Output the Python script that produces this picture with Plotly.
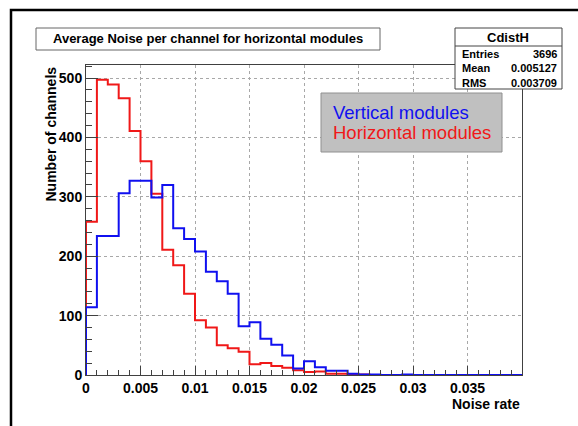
import numpy as np
import plotly.graph_objects as go

# ---- data ----
bin_width = 0.001
n_bins = 40
horizontal_counts = [258, 497, 489, 466, 411, 360, 305, 211, 185, 137,
                     92, 80, 50, 45, 39, 18, 20, 15, 12, 8,
                     5, 6, 2, 2, 1, 1, 0, 0, 0, 0,
                     0, 0, 0, 0, 0, 0, 0, 0, 0, 0]
vertical_counts = [114, 234, 234, 306, 327, 327, 299, 320, 247, 229,
                   208, 174, 158, 137, 82, 89, 61, 51, 33, 11,
                   23, 13, 7, 7, 2, 1, 1, 0, 0, 1,
                   0, 0, 0, 0, 0, 0, 0, 0, 0, 0]
x_tick_vals = [0, 0.005, 0.01, 0.015, 0.02, 0.025, 0.03, 0.035]
x_tick_text = ["0", "0.005", "0.01", "0.015", "0.02", "0.025", "0.03", "0.035"]
y_tick_vals = [0, 100, 200, 300, 400, 500]
stats_name = "CdistH"
stats_rows = [("Entries", "3696"), ("Mean", "0.005127"), ("RMS", "0.003709")]
title_text = "Average Noise per channel for horizontal modules"
legend_labels = ["Vertical modules", "Horizontal modules"]

BLUE = "#1010f0"
RED = "#f01818"
FONT = "Liberation Sans, Arial, Helvetica, sans-serif"

edges = [i * bin_width for i in range(n_bins + 1)]


def step_xy(counts):
    xs = [edges[0]] + edges[:-1] + [edges[-1], edges[-1]]
    ys = [0] + list(counts) + [counts[-1], 0]
    return xs, ys


W, H = 578, 426
L, R, T, B = 86, 522, 65, 375


def px(x):
    return (x - L) / (R - L)


def py(y):
    return (B - y) / (B - T)


fig = go.Figure()
for counts, color in [(horizontal_counts, RED), (vertical_counts, BLUE)]:
    xs, ys = step_xy(counts)
    fig.add_trace(go.Scatter(x=xs, y=ys, mode="lines", line_shape="hv",
                             line=dict(color=color, width=2), hoverinfo="skip",
                             showlegend=False))

shapes = []
annotations = []
# outer canvas frame
shapes.append(dict(type="rect", xref="paper", yref="paper",
                   x0=px(11), x1=px(600), y0=py(10), y1=py(450),
                   line=dict(color="black", width=2.5), layer="below"))
# title box
shapes.append(dict(type="rect", xref="paper", yref="paper",
                   x0=px(36), x1=px(380), y0=py(28), y1=py(50),
                   fillcolor="white", line=dict(color="#666666", width=1)))
annotations.append(dict(xref="paper", yref="paper", x=px(208), y=py(39),
                        text="<b>" + title_text + "</b>", showarrow=False,
                        xanchor="center", yanchor="middle",
                        font=dict(family=FONT, size=13, color="black")))
# stats box
shapes.append(dict(type="rect", xref="paper", yref="paper",
                   x0=px(455), x1=px(562), y0=py(28), y1=py(89),
                   fillcolor="white", line=dict(color="#444444", width=1)))
shapes.append(dict(type="line", xref="paper", yref="paper",
                   x0=px(455), x1=px(562), y0=py(46), y1=py(46),
                   line=dict(color="#444444", width=1)))
annotations.append(dict(xref="paper", yref="paper", x=px(508), y=py(37),
                        text="<b>" + stats_name + "</b>", showarrow=False,
                        xanchor="center", yanchor="middle",
                        font=dict(family=FONT, size=13, color="black")))
for i, (lab, val) in enumerate(stats_rows):
    yy = py(54 + 14.5 * i)
    annotations.append(dict(xref="paper", yref="paper", x=px(460), y=yy,
                            text="<b>" + lab + "</b>", showarrow=False,
                            xanchor="left", yanchor="middle",
                            font=dict(family=FONT, size=11, color="black")))
    annotations.append(dict(xref="paper", yref="paper", x=px(559), y=yy,
                            text="<b>" + val + "</b>", showarrow=False,
                            xanchor="right", yanchor="middle",
                            font=dict(family=FONT, size=11, color="black")))
# legend box
shapes.append(dict(type="rect", xref="paper", yref="paper",
                   x0=px(321), x1=px(502), y0=py(93), y1=py(152),
                   fillcolor="#c0c0c0", line=dict(color="#909090", width=1)))
for i, (lab, col) in enumerate(zip(legend_labels, [BLUE, RED])):
    annotations.append(dict(xref="paper", yref="paper", x=px(331), y=py(112 + 20 * i),
                            text=lab, showarrow=False,
                            xanchor="left", yanchor="middle",
                            font=dict(family=FONT, size=18.5, color=col)))
# axis titles
annotations.append(dict(xref="paper", yref="paper", x=px(50), y=py(65),
                        text="<b>Number of channels</b>", showarrow=False,
                        textangle=-90, xanchor="center", yanchor="top",
                        font=dict(family=FONT, size=14, color="black")))
annotations.append(dict(xref="paper", yref="paper", x=px(522), y=py(404),
                        text="<b>Noise rate</b>", showarrow=False,
                        xanchor="right", yanchor="middle",
                        font=dict(family=FONT, size=14, color="black")))

axis_common = dict(showline=True, mirror=True, linecolor="#404040", linewidth=1,
                   showgrid=True, gridcolor="#a8a8a8", griddash="dot", gridwidth=1,
                   zeroline=False, ticks="inside", tickcolor="#404040",
                   tickfont=dict(family=FONT, size=14, color="black", weight="bold"))

fig.update_layout(
    width=W, height=H, autosize=False,
    margin=dict(l=L, r=W - R, t=T, b=H - B, pad=0),
    paper_bgcolor="white", plot_bgcolor="white",
    shapes=shapes, annotations=annotations,
    xaxis=dict(range=[0, 0.04], tickvals=x_tick_vals, ticktext=x_tick_text,
               ticklen=9, tickwidth=1,
               minor=dict(dtick=0.001, tick0=0, ticks="inside", ticklen=5,
                          tickcolor="#404040", showgrid=False),
               **axis_common),
    yaxis=dict(range=[0, 522], tickvals=y_tick_vals,
               ticklen=12, tickwidth=1,
               minor=dict(dtick=20, tick0=0, ticks="inside", ticklen=6,
                          tickcolor="#404040", showgrid=False),
               **axis_common),
)

fig.write_html("out.html", config={"displayModeBar": False},
               post_script="document.body.style.margin='0';document.body.style.overflow='hidden';")
